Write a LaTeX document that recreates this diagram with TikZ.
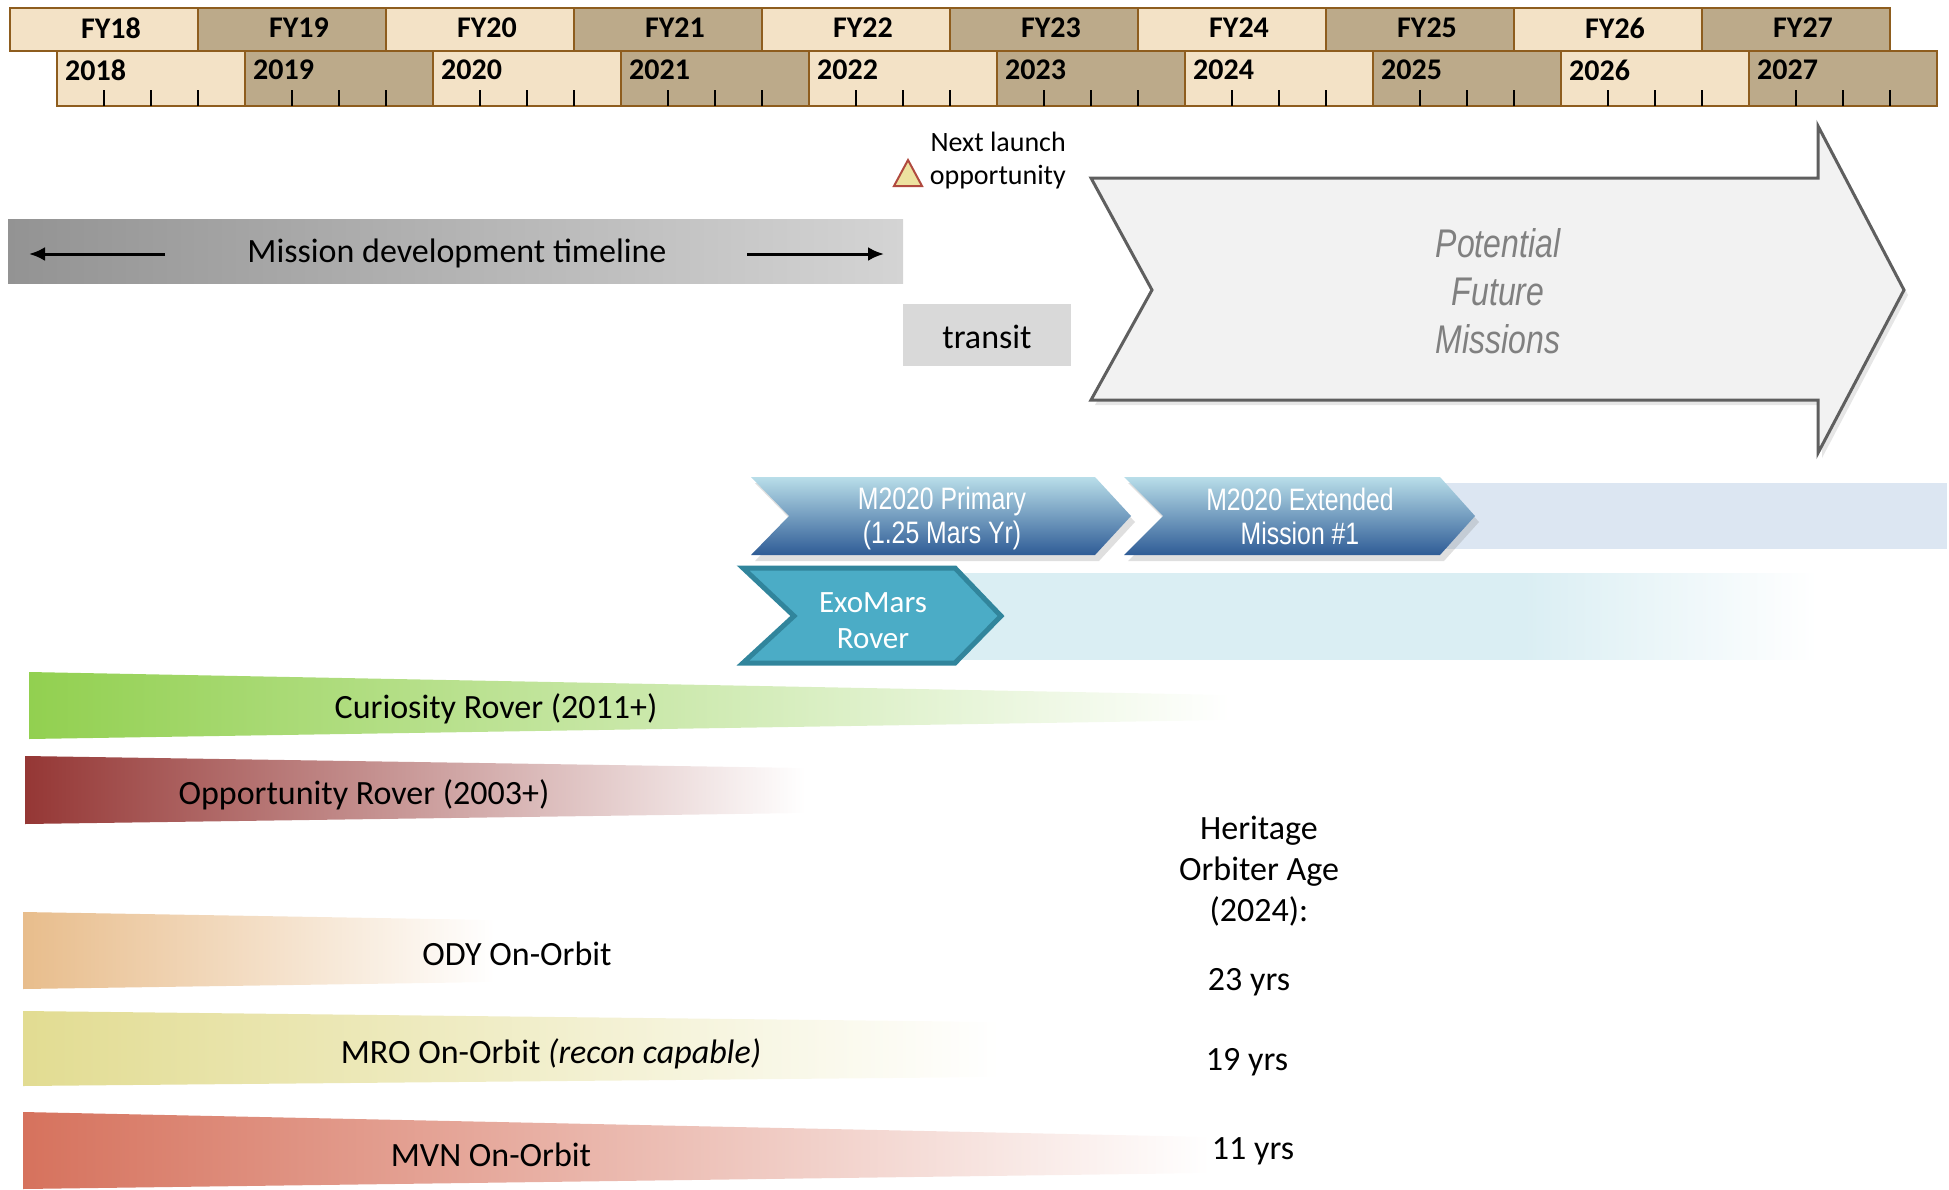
\documentclass[tikz,border=0pt]{standalone}
\usepackage{fontspec}
\usepackage{xcolor}
\usepackage{tikz}
\usetikzlibrary{arrows.meta,shadows}
\setmainfont{Carlito}
\newfontfamily\narrowfont[FakeStretch=0.8]{Liberation Sans}

\definecolor{tanlight}{HTML}{F3E2C6}
\definecolor{tandark}{HTML}{BCAA8A}
\definecolor{tanedge}{HTML}{8E5D1E}
\definecolor{barleft}{HTML}{939393}
\definecolor{barright}{HTML}{D4D4D4}
\definecolor{transitgray}{HTML}{D9D9D9}
\definecolor{futurefill}{HTML}{F2F2F2}
\definecolor{futureedge}{HTML}{5F5F5F}
\definecolor{futuretext}{HTML}{808080}
\definecolor{launchfill}{HTML}{EDE2A0}
\definecolor{launchedge}{HTML}{B04A3F}
\definecolor{mtop}{HTML}{B9DEE9}
\definecolor{mmid}{HTML}{8CC6DA}
\definecolor{mbottom}{HTML}{2F5C96}
\definecolor{mband}{HTML}{DCE6F2}
\definecolor{exofill}{HTML}{4BACC6}
\definecolor{exoedge}{HTML}{31859C}
\definecolor{exoband}{HTML}{DAEEF3}
\definecolor{curiosity}{HTML}{92D050}
\definecolor{opportunity}{HTML}{953735}
\definecolor{odyssey}{HTML}{E8BD8C}
\definecolor{recon}{HTML}{E2DC92}
\definecolor{maven}{HTML}{D6725D}

\pgfdeclarehorizontalshading{exofade}{100bp}{color(0bp)=(exoband); color(25bp)=(exoband); color(58bp)=(exoband); color(75bp)=(white); color(100bp)=(white)}

\begin{document}
\begin{tikzpicture}[x=1pt,y=1pt,
	lightbox/.style={draw=tanedge,fill=tanlight,line width=2.5pt},
	darkbox/.style={draw=tanedge,fill=tandark,line width=2.5pt},
	fylabel/.style={font=\fontsize{30}{36}\selectfont\bfseries},
	yearlabel/.style={font=\fontsize{30}{36}\selectfont\bfseries,anchor=west},
	yeartick/.style={black,line width=2pt},
	bodytext/.style={font=\fontsize{34}{41}\selectfont,align=center},
	chevron/.style={top color=mtop,middle color=mmid,bottom color=mbottom,
		drop shadow={opacity=0.25,shadow xshift=4pt,shadow yshift=-6pt}},
	chevtext/.style={font=\narrowfont\fontsize{31}{34}\selectfont,white,align=center},
	timearrow/.style={black,line width=3pt,-{Latex[length=16pt,width=14pt]}}]
			\tikzstyle{every node}+=[inner sep=0pt]
			\useasboundingbox (0,0) rectangle (1949,-1189);
			\draw [lightbox] (10,-8) rectangle (198,-51);
			\draw [darkbox] (198,-8) rectangle (386,-51);
			\draw [lightbox] (386,-8) rectangle (574,-51);
			\draw [darkbox] (574,-8) rectangle (762,-51);
			\draw [lightbox] (762,-8) rectangle (950,-51);
			\draw [darkbox] (950,-8) rectangle (1138,-51);
			\draw [lightbox] (1138,-8) rectangle (1326,-51);
			\draw [darkbox] (1326,-8) rectangle (1514,-51);
			\draw [lightbox] (1514,-8) rectangle (1702,-51);
			\draw [darkbox] (1702,-8) rectangle (1890,-51);
			\draw (111,-28) node [fylabel] (fy18) {FY18};
			\draw (299,-28) node [fylabel] (fy19) {FY19};
			\draw (487,-28) node [fylabel] (fy20) {FY20};
			\draw (675,-28) node [fylabel] (fy21) {FY21};
			\draw (863,-28) node [fylabel] (fy22) {FY22};
			\draw (1051,-28) node [fylabel] (fy23) {FY23};
			\draw (1239,-28) node [fylabel] (fy24) {FY24};
			\draw (1427,-28) node [fylabel] (fy25) {FY25};
			\draw (1615,-28) node [fylabel] (fy26) {FY26};
			\draw (1803,-28) node [fylabel] (fy27) {FY27};
			\draw [lightbox] (57,-51) rectangle (245,-106);
			\draw [darkbox] (245,-51) rectangle (433,-106);
			\draw [lightbox] (433,-51) rectangle (621,-106);
			\draw [darkbox] (621,-51) rectangle (809,-106);
			\draw [lightbox] (809,-51) rectangle (997,-106);
			\draw [darkbox] (997,-51) rectangle (1185,-106);
			\draw [lightbox] (1185,-51) rectangle (1373,-106);
			\draw [darkbox] (1373,-51) rectangle (1561,-106);
			\draw [lightbox] (1561,-51) rectangle (1749,-106);
			\draw [darkbox] (1749,-51) rectangle (1937,-106);
			\draw (65,-70) node [yearlabel] (y2018) {2018};
			\draw (253,-70) node [yearlabel] (y2019) {2019};
			\draw (441,-70) node [yearlabel] (y2020) {2020};
			\draw (629,-70) node [yearlabel] (y2021) {2021};
			\draw (817,-70) node [yearlabel] (y2022) {2022};
			\draw (1005,-70) node [yearlabel] (y2023) {2023};
			\draw (1193,-70) node [yearlabel] (y2024) {2024};
			\draw (1381,-70) node [yearlabel] (y2025) {2025};
			\draw (1569,-70) node [yearlabel] (y2026) {2026};
			\draw (1757,-70) node [yearlabel] (y2027) {2027};
			\draw [yeartick] (104,-90) -- (104,-106) (151,-90) -- (151,-106) (198,-90) -- (198,-106);
			\draw [yeartick] (292,-90) -- (292,-106) (339,-90) -- (339,-106) (386,-90) -- (386,-106);
			\draw [yeartick] (480,-90) -- (480,-106) (527,-90) -- (527,-106) (574,-90) -- (574,-106);
			\draw [yeartick] (668,-90) -- (668,-106) (715,-90) -- (715,-106) (762,-90) -- (762,-106);
			\draw [yeartick] (856,-90) -- (856,-106) (903,-90) -- (903,-106) (950,-90) -- (950,-106);
			\draw [yeartick] (1044,-90) -- (1044,-106) (1091,-90) -- (1091,-106) (1138,-90) -- (1138,-106);
			\draw [yeartick] (1232,-90) -- (1232,-106) (1279,-90) -- (1279,-106) (1326,-90) -- (1326,-106);
			\draw [yeartick] (1420,-90) -- (1420,-106) (1467,-90) -- (1467,-106) (1514,-90) -- (1514,-106);
			\draw [yeartick] (1608,-90) -- (1608,-106) (1655,-90) -- (1655,-106) (1702,-90) -- (1702,-106);
			\draw [yeartick] (1796,-90) -- (1796,-106) (1843,-90) -- (1843,-106) (1890,-90) -- (1890,-106);
			\shade [left color=barleft,right color=barright] (8,-219) rectangle (903,-283);
			\draw (457,-253) node [bodytext] (devtimeline) {Mission development timeline};
			\coordinate (devleftstart) at (165,-254);
			\coordinate (devleftend) at (29,-254);
			\coordinate (devrightstart) at (747,-254);
			\coordinate (devrightend) at (884,-254);
			\draw [timearrow] (devleftstart) -- (devleftend);
			\draw [timearrow] (devrightstart) -- (devrightend);
			\fill [transitgray] (903,-304) rectangle (1071,-366);
			\draw (987,-337) node [bodytext] (transit) {transit};
			\draw [launchedge,fill=launchfill,line width=2pt] (894,-186) -- (908,-160) -- (922,-186) -- cycle;
			\draw (1066,-161) node [anchor=east,align=right,font=\fontsize{28}{33}\selectfont] (launch) {Next launch\\opportunity};
			\draw [futureedge,fill=futurefill,line width=3pt,drop shadow={opacity=0.2,shadow xshift=4pt,shadow yshift=-5pt}] (1091,-178) -- (1818,-178) -- (1818,-126) -- (1904,-290) -- (1818,-453) -- (1818,-400) -- (1091,-400) -- (1152,-290) -- cycle;
			\draw (1498,-291) node [futuretext,align=center,font=\narrowfont\itshape\fontsize{40}{48}\selectfont] (future) {Potential\\Future\\Missions};
			\fill [mband] (1400,-483) rectangle (1947,-549);
			\shade [chevron] (751,-477) -- (1095,-477) -- (1131,-516) -- (1095,-555) -- (751,-555) -- (789,-516) -- cycle;
			\shade [chevron] (1124,-477) -- (1440,-477) -- (1475,-516) -- (1440,-555) -- (1124,-555) -- (1163,-516) -- cycle;
			\draw (942,-518) node [chevtext] (primary) {M2020 Primary\\(1.25 Mars Yr)};
			\draw (1300,-516) node [chevtext] (extended) {M2020 Extended\\Mission \#1};
			\shade [shading=exofade] (955,-573) rectangle (1817,-659);
			\draw [exoedge,fill=exofill,line width=5pt,line join=miter] (743,-568) -- (955,-568) -- (1001,-616) -- (955,-663) -- (743,-663) -- (794,-616) -- cycle;
			\draw (873,-621) node [bodytext,white,font=\fontsize{31}{36}\selectfont] (exomars) {ExoMars\\Rover};
			\shade [left color=curiosity,right color=white] (29,-672) -- (1230,-695) -- (1230,-720) -- (29,-739) -- cycle;
			\draw (496,-709) node [bodytext] (msl) {Curiosity Rover (2011+)};
			\shade [left color=opportunity,right color=white] (25,-756) -- (805,-768) -- (805,-813) -- (25,-824) -- cycle;
			\draw (364,-795) node [bodytext] (mer) {Opportunity Rover (2003+)};
			\shade [left color=odyssey,right color=white] (23,-912) -- (495,-920) -- (495,-982) -- (23,-989) -- cycle;
			\draw (517,-954) node [bodytext] (ody) {ODY On-Orbit};
			\shade [left color=recon,right color=white] (23,-1011) -- (1000,-1022) -- (1000,-1077) -- (23,-1086) -- cycle;
			\draw (551,-1054) node [bodytext] (mro) {MRO On-Orbit \textit{(recon capable)}};
			\shade [left color=maven,right color=white] (23,-1112) -- (1210,-1137) -- (1210,-1173) -- (23,-1189) -- cycle;
			\draw (491,-1155) node [bodytext] (mvn) {MVN On-Orbit};
			\draw (1259,-871) node [bodytext] (heritage) {Heritage\\Orbiter Age\\(2024):};
			\draw (1249,-982) node [bodytext] (odyage) {23 yrs};
			\draw (1247,-1062) node [bodytext] (mroage) {19 yrs};
			\draw (1253,-1151) node [bodytext] (mvnage) {11 yrs};
		\end{tikzpicture}
\end{document}
